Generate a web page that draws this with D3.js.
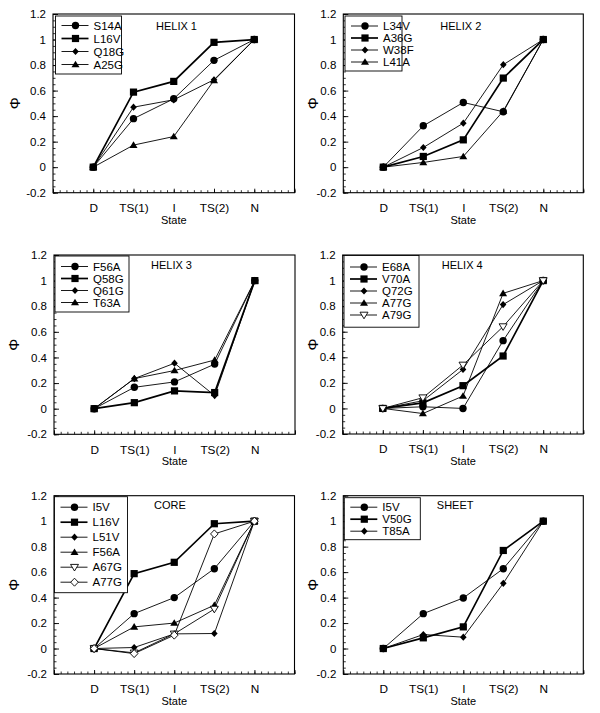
<!DOCTYPE html>
<html><head><meta charset="utf-8">
<script src="https://cdn.jsdelivr.net/npm/d3@7"></script>
<style>
html,body{margin:0;padding:0;background:#fff;}
svg{display:block;font-family:"Liberation Sans",Arial,Helvetica,sans-serif;}
</style></head>
<body>
<script>
// ---------- data ----------
const states = ["D", "TS(1)", "I", "TS(2)", "N"];
const yTickValues = [-0.2, 0, 0.2, 0.4, 0.6, 0.8, 1, 1.2];
const yTickLabels = ["-0.2", "0", "0.2", "0.4", "0.6", "0.8", "1", "1.2"];
const xAxisTitle = "State";
const yAxisTitle = "Φ";

const panelTitles = ["HELIX 1", "HELIX 2", "HELIX 3", "HELIX 4", "CORE", "SHEET"];

const helix1Names = ["S14A", "L16V", "Q18G", "A25G"];
const helix1Values = [
  [0, 0.38, 0.536, 0.837, 1],
  [0, 0.588, 0.672, 0.978, 1],
  [0, 0.47, 0.528, 0.685, 1],
  [0, 0.173, 0.24, 0.68, 1]
];
const helix2Names = ["L34V", "A36G", "W38F", "L41A"];
const helix2Values = [
  [0, 0.324, 0.507, 0.434, 1],
  [0, 0.084, 0.214, 0.698, 1],
  [0, 0.154, 0.345, 0.803, 1],
  [0, 0.037, 0.084, 0.44, 1]
];
const helix3Names = ["F56A", "Q58G", "Q61G", "T63A"];
const helix3Values = [
  [0, 0.167, 0.209, 0.348, 1],
  [0, 0.047, 0.139, 0.126, 1],
  [0, 0.235, 0.355, 0.102, 1],
  [0, 0.235, 0.298, 0.38, 1]
];
const helix4Names = ["E68A", "V70A", "Q72G", "A77G", "A79G"];
const helix4Values = [
  [0, 0.013, 0, 0.53, 1],
  [0, 0.044, 0.178, 0.41, 1],
  [0, 0.06, 0.305, 0.812, 1],
  [0, -0.04, 0.097, 0.90, 1],
  [0, 0.084, 0.34, 0.64, 1]
];
const coreNames = ["I5V", "L16V", "L51V", "F56A", "A67G", "A77G"];
const coreValues = [
  [0, 0.274, 0.40, 0.627, 1],
  [0, 0.588, 0.677, 0.98, 1],
  [0, 0.008, 0.115, 0.118, 1],
  [0, 0.17, 0.20, 0.34, 1],
  [0, -0.034, 0.115, 0.31, 1],
  [0, -0.04, 0.105, 0.90, 1]
];
const sheetNames = ["I5V", "V50G", "T85A"];
const sheetValues = [
  [0, 0.274, 0.397, 0.627, 1],
  [0, 0.084, 0.17, 0.77, 1],
  [0, 0.11, 0.089, 0.512, 1]
];

// ---------- styles ----------
const markerSets = [
  ["circle", "square", "diamond", "triangle"],
  ["circle", "square", "diamond", "triangle"],
  ["circle", "square", "diamond", "triangle"],
  ["circle", "square", "diamond", "triangle", "opendown"],
  ["circle", "square", "diamond", "triangle", "opendown", "opendiamond"],
  ["circle", "square", "diamond"]
];
const panelNames = [helix1Names, helix2Names, helix3Names, helix4Names, coreNames, sheetNames];
const panelValues = [helix1Values, helix2Values, helix3Values, helix4Values, coreValues, sheetValues];

// layout per panel: frame and legend / title placement
const layout = [
  {L: 53, R: 294.5, T: 14, B: 192.7, titleX: 103, titleY: 15.5, lg: {x: 2.5, y: 2, w: 66, h: 58, first: 9.5, step: 13}, phiX: -38},
  {L: 343.3, R: 583.3, T: 14, B: 192.7, titleX: 97, titleY: 15.5, lg: {x: 1.7, y: 2, w: 57, h: 55, first: 10, step: 12}, phiX: -30.6},
  {L: 54, R: 295, T: 255, B: 434.3, titleX: 97, titleY: 13.5, lg: {x: 1, y: 1, w: 74, h: 56, first: 10.5, step: 12}, phiX: -40},
  {L: 342.7, R: 583.3, T: 255, B: 434, titleX: 99, titleY: 13.5, lg: {x: 1.3, y: 0.5, w: 75, h: 71.7, first: 11.5, step: 12}, phiX: -30},
  {L: 54, R: 294.5, T: 495.7, B: 674, titleX: 100, titleY: 12.8, lg: {x: 0.5, y: 1, w: 73, h: 96, first: 10.5, step: 15}, phiX: -40},
  {L: 343.3, R: 583.3, T: 495.7, B: 674, titleX: 93.5, titleY: 13.2, lg: {x: 1, y: 2, w: 76, h: 42, first: 9.5, step: 12}, phiX: -30.6}
];

const W = 600, H = 713;
const svg = d3.select("body").append("svg").attr("width", W).attr("height", H);

function drawMarker(g, type, x, y) {
  if (type === "circle") {
    g.append("circle").attr("cx", x).attr("cy", y).attr("r", 3.7).attr("fill", "#000");
  } else if (type === "square") {
    g.append("rect").attr("x", x - 3.6).attr("y", y - 3.6).attr("width", 7.2).attr("height", 7.2).attr("fill", "#000");
  } else if (type === "diamond") {
    g.append("path").attr("d", `M${x},${y - 3.6}L${x + 3.3},${y}L${x},${y + 3.6}L${x - 3.3},${y}Z`).attr("fill", "#000");
  } else if (type === "triangle") {
    g.append("path").attr("d", `M${x},${y - 3.8}L${x + 4},${y + 2.8}L${x - 4},${y + 2.8}Z`).attr("fill", "#000");
  } else if (type === "opendown") {
    g.append("path").attr("d", `M${x - 4},${y - 2.8}L${x + 4},${y - 2.8}L${x},${y + 3.8}Z`)
      .attr("fill", "#fff").attr("stroke", "#000").attr("stroke-width", 0.9);
  } else if (type === "opendiamond") {
    g.append("path").attr("d", `M${x},${y - 4}L${x + 3.8},${y}L${x},${y + 4}L${x - 3.8},${y}Z`)
      .attr("fill", "#fff").attr("stroke", "#000").attr("stroke-width", 0.9);
  }
}

panelValues.forEach((vals, pi) => {
  const lo = layout[pi];
  const names = panelNames[pi];
  const markers = markerSets[pi];
  const x = d3.scaleLinear().domain([-1, 5]).range([lo.L, lo.R]);
  const y = d3.scaleLinear().domain([-0.2, 1.2]).range([lo.B, lo.T]);
  const g = svg.append("g");

  // minor ticks (inside)
  const yMinor = d3.range(-0.2, 1.2001, 0.05);
  g.append("g").attr("transform", `translate(${lo.L},0)`)
    .call(d3.axisRight(y).tickValues(yMinor).tickSize(2.5).tickFormat(""))
    .call(a => a.select(".domain").remove())
    .selectAll("line").attr("stroke", "#000").attr("stroke-width", 0.8);
  g.append("g").attr("transform", `translate(${lo.L},0)`)
    .call(d3.axisRight(y).tickValues(yTickValues).tickSize(5).tickFormat(""))
    .call(a => a.select(".domain").remove())
    .selectAll("line").attr("stroke", "#000").attr("stroke-width", 0.9);
  // y labels
  g.append("g").attr("transform", `translate(${lo.L},0)`)
    .call(d3.axisLeft(y).tickValues(yTickValues).tickSize(0).tickPadding(7)
      .tickFormat((d, i) => yTickLabels[i]))
    .call(a => a.select(".domain").remove())
    .selectAll("text").attr("font-size", 11.5).attr("fill", "#000")
    .attr("font-family", "Liberation Sans, Arial, sans-serif");

  const xMinor = d3.range(-1, 5.0001, 1 / 6);
  g.append("g").attr("transform", `translate(0,${lo.B})`)
    .call(d3.axisTop(x).tickValues(xMinor).tickSize(2.5).tickFormat(""))
    .call(a => a.select(".domain").remove())
    .selectAll("line").attr("stroke", "#000").attr("stroke-width", 0.8);
  g.append("g").attr("transform", `translate(0,${lo.B})`)
    .call(d3.axisTop(x).tickValues(d3.range(-1, 6)).tickSize(4).tickFormat(""))
    .call(a => a.select(".domain").remove())
    .selectAll("line").attr("stroke", "#000").attr("stroke-width", 0.9);
  g.append("g").attr("transform", `translate(0,${lo.B})`)
    .call(d3.axisBottom(x).tickValues(d3.range(states.length)).tickSize(0).tickPadding(11)
      .tickFormat((d) => states[d]))
    .call(a => a.select(".domain").remove())
    .selectAll("text").attr("font-size", 11.8).attr("fill", "#000")
    .attr("font-family", "Liberation Sans, Arial, sans-serif");

  // frame
  g.append("rect").attr("x", lo.L).attr("y", lo.T).attr("width", lo.R - lo.L).attr("height", lo.B - lo.T)
    .attr("fill", "none").attr("stroke", "#000").attr("stroke-width", 1.1);

  // axis titles
  g.append("text").attr("x", x(2)).attr("y", lo.B + 31).attr("text-anchor", "middle")
    .attr("font-size", 11).text(xAxisTitle);
  g.append("text").attr("transform", `translate(${lo.L + lo.phiX},${(lo.T + lo.B) / 2}) rotate(-90)`)
    .attr("text-anchor", "middle").attr("dy", "0.35em").attr("font-size", 15).text(yAxisTitle);

  // title
  g.append("text").attr("x", lo.L + lo.titleX).attr("y", lo.T + lo.titleY).attr("font-size", 11).text(panelTitles[pi]);

  // series
  const line = d3.line().x((d, i) => x(i)).y(d => y(d));
  vals.forEach((v, si) => {
    const sg = g.append("g");
    sg.append("path").attr("d", line(v)).attr("fill", "none").attr("stroke", "#000")
      .attr("stroke-width", markers[si] === "square" ? 1.7 : 0.9);
    v.forEach((d, i) => drawMarker(sg, markers[si], x(i), y(d)));
  });

  // legend
  const lg = lo.lg;
  const lx = lo.L + lg.x, ly = lo.T + lg.y;
  const leg = g.append("g");
  leg.append("rect").attr("x", lx).attr("y", ly).attr("width", lg.w).attr("height", lg.h)
    .attr("fill", "#fff").attr("stroke", "#000").attr("stroke-width", 0.9);
  names.forEach((n, i) => {
    const ry = ly + lg.first + i * lg.step;
    leg.append("line").attr("x1", lx + 6).attr("x2", lx + 33).attr("y1", ry).attr("y2", ry)
      .attr("stroke", "#000").attr("stroke-width", markers[i] === "square" ? 1.7 : 0.9);
    drawMarker(leg, markers[i], lx + 20, ry);
    leg.append("text").attr("x", lx + 38).attr("y", ry).attr("dy", "0.36em").attr("font-size", 11.5).text(n);
  });
});
</script>
</body></html>
